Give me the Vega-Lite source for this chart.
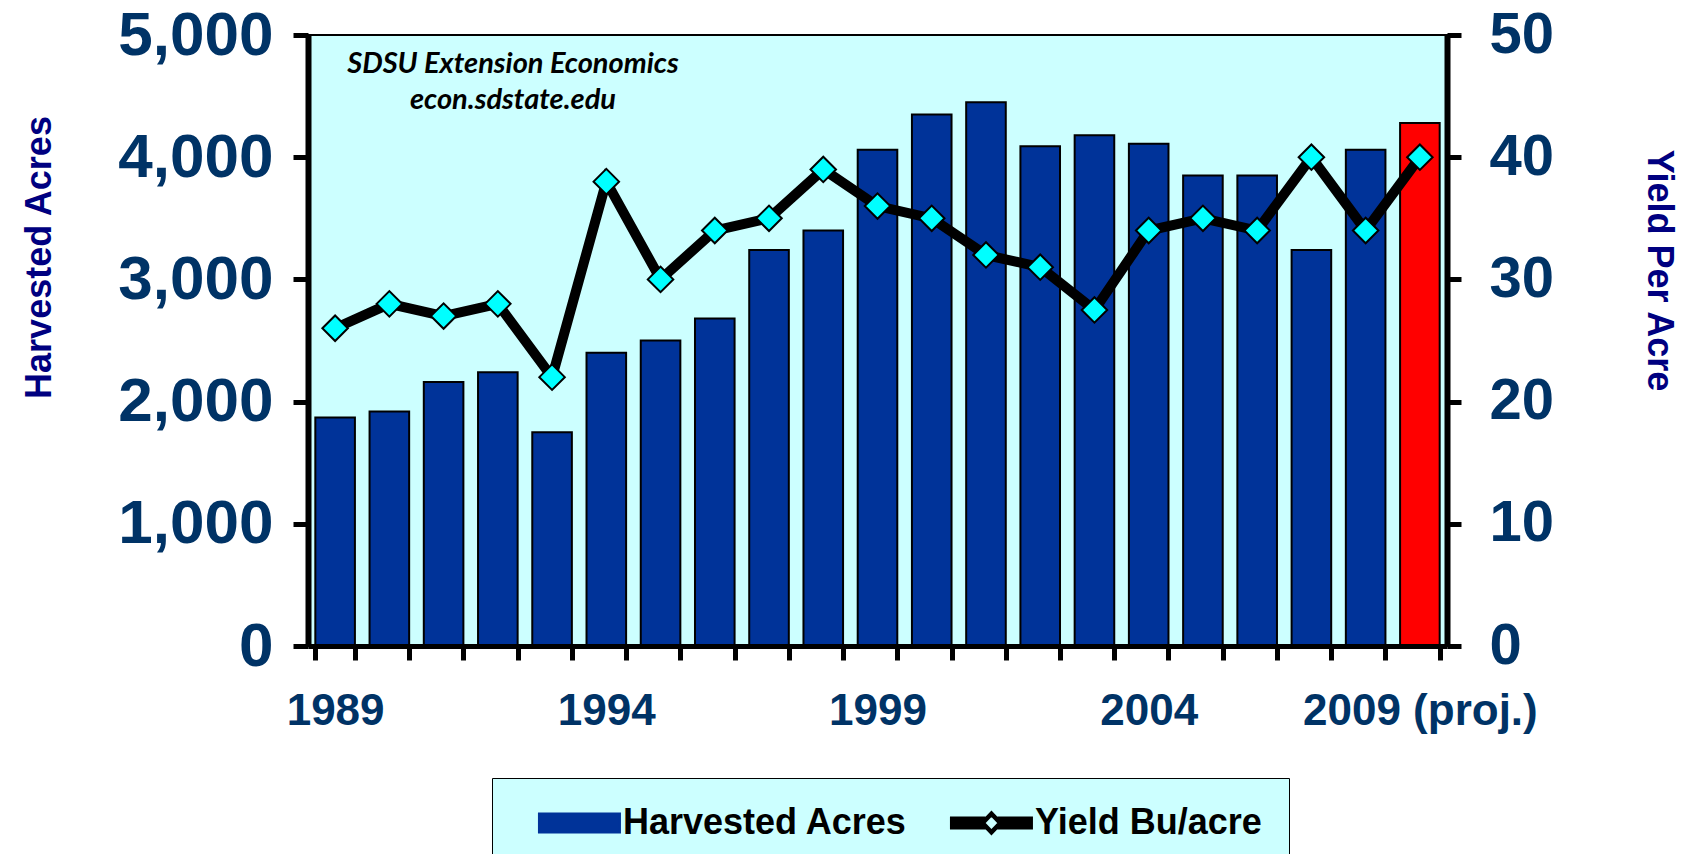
{
  "$schema": "https://vega.github.io/schema/vega-lite/v6.json",
  "width": 1139,
  "height": 611,
  "autosize": {"type": "none"},
  "padding": {"left": 308, "top": 35, "right": 234, "bottom": 208},
  "background": "white",
  "title": {
    "text": "SDSU Extension  Economics",
    "subtitle": "econ.sdstate.edu",
    "anchor": "start",
    "frame": "group",
    "align": "center",
    "dx": 205,
    "dy": 111,
    "offset": 0,
    "font": "Lato",
    "fontSize": 29,
    "fontStyle": "italic",
    "fontWeight": "bold",
    "color": "black",
    "subtitleFont": "Lato",
    "subtitleFontSize": 29,
    "subtitleFontStyle": "italic",
    "subtitleFontWeight": "bold",
    "subtitleColor": "black",
    "subtitlePadding": 7
  },
  "data": {
    "values": [
      {"year": "1989", "acres": 1870, "yield": 26},
      {"year": "1990", "acres": 1920, "yield": 28},
      {"year": "1991", "acres": 2160, "yield": 27},
      {"year": "1992", "acres": 2240, "yield": 28},
      {"year": "1993", "acres": 1750, "yield": 22},
      {"year": "1994", "acres": 2400, "yield": 38},
      {"year": "1995", "acres": 2500, "yield": 30},
      {"year": "1996", "acres": 2680, "yield": 34},
      {"year": "1997", "acres": 3240, "yield": 35},
      {"year": "1998", "acres": 3400, "yield": 39},
      {"year": "1999", "acres": 4060, "yield": 36},
      {"year": "2000", "acres": 4350, "yield": 35},
      {"year": "2001", "acres": 4450, "yield": 32},
      {"year": "2002", "acres": 4090, "yield": 31},
      {"year": "2003", "acres": 4180, "yield": 27.5},
      {"year": "2004", "acres": 4110, "yield": 34},
      {"year": "2005", "acres": 3850, "yield": 35},
      {"year": "2006", "acres": 3850, "yield": 34},
      {"year": "2007", "acres": 3240, "yield": 40},
      {"year": "2008", "acres": 4060, "yield": 34},
      {"year": "2009", "acres": 4280, "yield": 40}
    ]
  },
  "encoding": {
    "x": {
      "field": "year",
      "type": "ordinal",
      "scale": {"type": "band", "paddingInner": 0.27, "paddingOuter": 0.135},
      "axis": {
        "title": null,
        "labelAngle": 0,
        "labelOverlap": false,
        "labelBound": false,
        "labelLimit": 0,
        "labelExpr": "datum.value == '2009' ? '2009 (proj.)' : (indexof(['1989','1994','1999','2004'], datum.value) >= 0 ? datum.value : '')",
        "labelFont": "Liberation Sans",
        "labelFontSize": 44,
        "labelFontWeight": "bold",
        "labelColor": "#003366",
        "labelPadding": 29,
        "tickBand": "extent",
        "tickSize": 14,
        "tickWidth": 5,
        "tickColor": "black",
        "domainColor": "black",
        "domainWidth": 5,
        "zindex": 1
      }
    }
  },
  "layer": [
    {
      "mark": {"type": "bar", "stroke": "black", "strokeWidth": 2},
      "encoding": {
        "y": {
          "field": "acres",
          "type": "quantitative",
          "scale": {"domain": [0, 5000], "nice": false},
          "axis": {
            "orient": "left",
            "values": [0, 1000, 2000, 3000, 4000, 5000],
            "format": ",d",
            "grid": false,
            "labelFont": "Liberation Sans",
            "labelFontSize": 62,
            "labelFontWeight": "bold",
            "labelColor": "#003366",
            "labelPadding": 20,
            "labelLimit": 0,
            "tickSize": 15,
            "tickWidth": 5,
            "tickColor": "black",
            "domainColor": "black",
            "domainWidth": 6,
            "title": "Harvested Acres",
            "titleFont": "Liberation Sans",
            "titleFontSize": 36,
            "titleFontWeight": "bold",
            "titleColor": "#000080",
            "titleAngle": 270,
            "titleX": -269,
            "titleY": 222,
            "titleAlign": "center",
            "titleBaseline": "middle",
            "zindex": 1
          }
        },
        "color": {
          "datum": "Harvested Acres",
          "type": "nominal",
          "scale": {"domain": ["Harvested Acres", "Yield Bu/acre"], "range": ["#003399", "#000000"]},
          "condition": {"test": "datum.year === '2009'", "value": "#FF0000"},
          "legend": {
            "title": null,
            "orient": "none",
            "legendX": 184,
            "legendY": 743,
            "direction": "horizontal",
            "fillColor": "#CCFFFF",
            "strokeColor": "black",
            "padding": 27,
            "labelFont": "Liberation Sans",
            "labelFontSize": 36,
            "labelFontWeight": "bold",
            "labelColor": "black",
            "labelLimit": 0,
            "symbolSize": 900,
            "symbolType": "M0.13,-0.63H5.53V0.63H0.13Z",
            "symbolStrokeColor": "black",
            "symbolStrokeWidth": 2,
            "symbolOpacity": 1,
            "labelOffset": 68,
            "columnPadding": 23
          }
        }
      }
    },
    {
      "encoding": {
        "y": {
          "field": "yield",
          "type": "quantitative",
          "scale": {"domain": [0, 50], "nice": false},
          "axis": {
            "orient": "right",
            "values": [0, 10, 20, 30, 40, 50],
            "grid": false,
            "labelFont": "Liberation Sans",
            "labelFontSize": 58,
            "labelFontWeight": "bold",
            "labelColor": "#003366",
            "labelPadding": 28,
            "tickSize": 14,
            "tickWidth": 5,
            "tickColor": "black",
            "domainColor": "black",
            "domainWidth": 6,
            "title": "Yield Per Acre",
            "titleFont": "Liberation Sans",
            "titleFontSize": 36,
            "titleFontWeight": "bold",
            "titleColor": "#000080",
            "titleAngle": 90,
            "titleX": 211,
            "titleY": 235,
            "titleAlign": "center",
            "titleBaseline": "middle",
            "zindex": 1
          }
        }
      },
      "layer": [
        {
          "mark": {"type": "line", "strokeWidth": 10, "strokeJoin": "miter"},
          "encoding": {
            "color": {"datum": "Yield Bu/acre", "type": "nominal", "legend": null}
          }
        },
        {
          "mark": {"type": "point", "shape": "diamond", "filled": true, "fill": "#00FFFF", "stroke": "black", "strokeWidth": 2, "size": 650, "opacity": 1}
        },
        {
          "mark": {"type": "point", "opacity": 0, "filled": true},
          "encoding": {
            "shape": {
              "datum": "Yield Bu/acre",
              "type": "nominal",
              "scale": {
                "domain": ["Harvested Acres", "Yield Bu/acre"],
                "range": [
                  "M0.13,-0.63H5.53V0.63H0.13Z",
                  "M0.13,-0.37H2.36V0.37H0.13Z M3.3,-0.37H5.53V0.37H3.3Z M2.83,-0.73L3.53,0L2.83,0.73L2.13,0Z M2.83,-0.5L2.35,0L2.83,0.5L3.31,0Z"
                ]
              },
              "legend": {
                "title": null,
                "orient": "none",
                "legendX": 184,
                "legendY": 743,
                "direction": "horizontal",
                "fillColor": "#CCFFFF",
                "strokeColor": "black",
                "padding": 27,
                "labelFont": "Liberation Sans",
                "labelFontSize": 36,
                "labelFontWeight": "bold",
                "labelColor": "black",
                "labelLimit": 0,
                "symbolSize": 900,
                "symbolStrokeColor": "black",
                "symbolStrokeWidth": 2,
                "symbolOpacity": 1,
                "labelOffset": 68,
                "columnPadding": 23
              }
            }
          }
        }
      ]
    }
  ],
  "resolve": {"scale": {"y": "independent"}},
  "config": {
    "view": {"fill": "#CCFFFF", "stroke": "black", "strokeWidth": 2}
  }
}
